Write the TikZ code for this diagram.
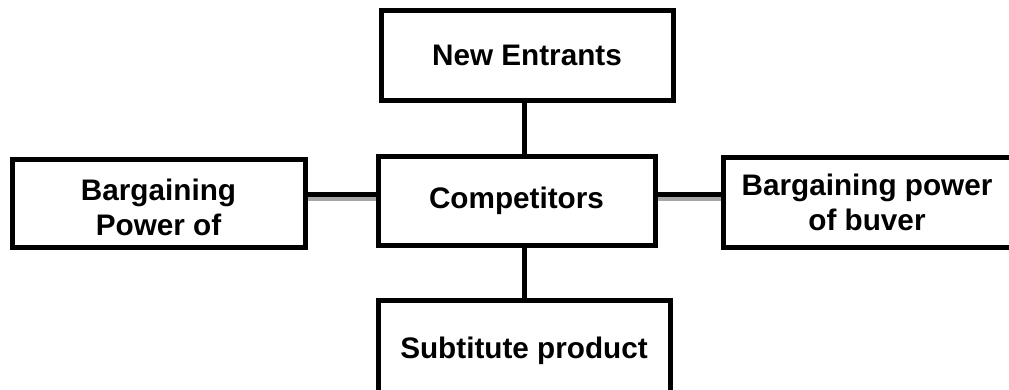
\documentclass[tikz,border=0pt]{standalone}
\usepackage{fontspec}
\setmainfont{Liberation Sans}
\usetikzlibrary{positioning,calc}

\tikzset{
  forcefont/.style={font=\fontsize{29.7}{35}\selectfont\bfseries},
  force/.style={draw, rectangle, line width=5pt, inner sep=0pt, outer sep=0pt, align=center, forcefont},
  link/.style={line width=5pt},
  linkshade/.style={line width=4pt, gray!70, shorten <=2.5pt, shorten >=2.5pt},
}

\begin{document}
\begin{tikzpicture}[x=1pt,y=-1pt, line join=miter]
\useasboundingbox (0,0) rectangle (1009,389);
\clip (0,0) rectangle (1009,389);
% the five forces
\node[force, minimum width=292pt, minimum height=90pt]  (entrants) at (527,55)    {New Entrants};
\node[force, minimum width=277pt, minimum height=89pt]  (comp)     at (516.5,200.5) {Competitors};
\node[force, minimum width=293pt, minimum height=88pt,
  label={[forcefont, align=center, yshift=-4pt]center:Bargaining\\Power of}] (supplier) at (158.5,203) {};
\node[force, minimum width=288pt, minimum height=90pt]  (buyer)    at (867,202)   {Bargaining power\\of buver};
\node[force, minimum width=292pt, minimum height=102pt] (product)  at (524,351)   {Subtitute product};
% connectors
\coordinate (vaxis) at (524,0);
\coordinate (haxis) at (0,194.5);
\draw[link] (entrants.south -| vaxis) -- (comp.north -| vaxis);
\draw[link] (comp.south -| vaxis) -- (product.north -| vaxis);
\draw[linkshade] ($(supplier.east |- haxis)+(0,4.5)$) -- ($(comp.west |- haxis)+(0,4.5)$);
\draw[linkshade] ($(comp.east |- haxis)+(0,4.5)$) -- ($(buyer.west |- haxis)+(0,4.5)$);
\draw[link] (supplier.east |- haxis) -- (comp.west |- haxis);
\draw[link] (comp.east |- haxis) -- (buyer.west |- haxis);
\end{tikzpicture}
\end{document}
